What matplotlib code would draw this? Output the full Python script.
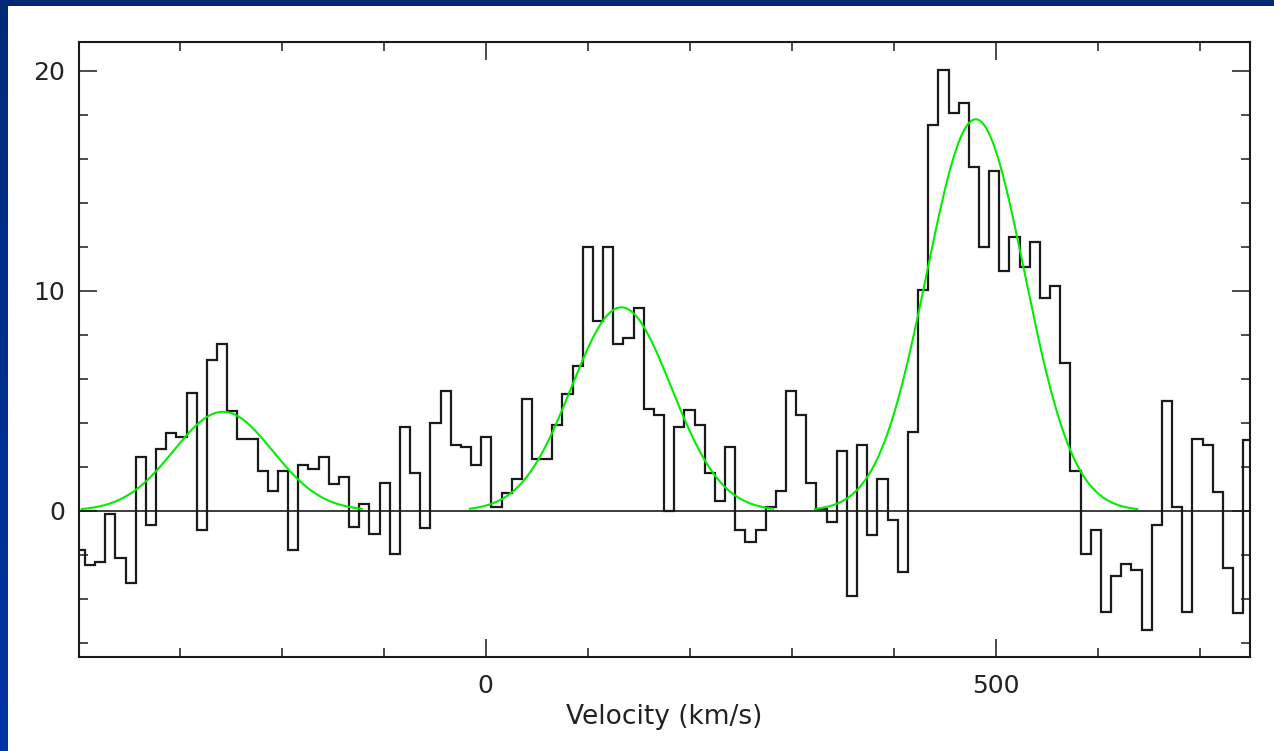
import numpy as np
import matplotlib
matplotlib.use("Agg")
import matplotlib.pyplot as plt
from matplotlib.patches import Rectangle
from matplotlib.colors import LinearSegmentedColormap
from matplotlib.ticker import MultipleLocator, FixedLocator

# --- spectrum: regular velocity channels, flux ---
v_first_edge = -402.8   # km/s, left edge of the first (clipped) channel
channel_width = 9.96    # km/s
flux = [
    -1.79, -2.45, -2.35, -0.16, -2.14, -3.27, 2.45, -0.65, 2.8, 3.52,
    3.34, 5.34, -0.88, 6.85, 7.59, 4.53, 3.25, 3.25, 1.8, 0.9,
    1.8, -1.79, 2.08, 1.9, 2.45, 1.2, 1.53, -0.73, 0.3, -1.07,
    1.27, -1.97, 3.79, 1.71, -0.8, 3.97, 5.44, 2.97, 2.9, 2.08,
    3.36, 0.18, 0.82, 1.43, 5.06, 2.35, 2.35, 3.88, 5.3, 6.58,
    12.0, 8.64, 12.0, 7.6, 7.86, 9.2, 4.62, 4.35, 0.0, 3.8,
    4.59, 3.9, 1.73, 0.45, 2.91, -0.88, -1.44, -0.88, 0.18, 0.91,
    5.45, 4.35, 1.27, 0.06, -0.53, 2.71, -3.88, 2.99, -1.1, 1.44,
    -0.43, -2.79, 3.6, 10.04, 17.53, 20.05, 18.07, 18.52, 15.61, 12.01,
    15.43, 10.92, 12.46, 11.1, 12.2, 9.66, 10.21, 6.7, 1.8, -1.97,
    -0.88, -4.59, -2.97, -2.44, -2.7, -5.42, -0.65, 4.99, 0.18, -4.59,
    3.24, 2.99, 0.84, -2.59, -4.66, 3.21,
]

# --- gaussian fits (green) ---
fit_amp = [4.5, 9.25, 17.8]
fit_centre = [-257.5, 133.0, 480.4]
fit_sigma = [48.5, 49.0, 48.0]
fit_from = [-396.0, -15.4, 322.8]
fit_to = [-121.6, 281.7, 638.8]

x_ticks_major = [0, 500]
y_ticks_major = [0, 10, 20]

W, H = 1274, 751
fig = plt.figure(figsize=(W / 100, H / 100), dpi=100)

# blue slide background with a white panel
bg = fig.add_axes([0, 0, 1, 1], zorder=-5)
blue = LinearSegmentedColormap.from_list("slide", ["#002a78", "#0034a4"])
bg.imshow(np.linspace(0, 1, 256).reshape(-1, 1), cmap=blue, aspect="auto",
          extent=[0, 1, 0, 1])
bg.add_patch(Rectangle((8 / W, 0), 1 - 8 / W, 1 - 6 / H,
                       transform=bg.transAxes, facecolor="white", lw=0))
bg.set_xlim(0, 1)
bg.set_ylim(0, 1)
bg.axis("off")

ax = fig.add_axes([79 / W, 94 / H, (1250 - 79) / W, (657 - 42.3) / H])
ax.patch.set_alpha(0)

edges = v_first_edge + channel_width * np.arange(len(flux) + 1)
ax.stairs(flux, edges, baseline=None, color="#1a1a1a", lw=1.6)
ax.axhline(0, color="#1a1a1a", lw=1.2)

for a, c, s, v0, v1 in zip(fit_amp, fit_centre, fit_sigma, fit_from, fit_to):
    v = np.linspace(v0, v1, 300)
    ax.plot(v, a * np.exp(-0.5 * ((v - c) / s) ** 2), color="#00ee00", lw=1.5)

ax.set_xlim(-398.7, 749.3)
ax.set_ylim(-6.65, 21.3)

ax.xaxis.set_major_locator(FixedLocator(x_ticks_major))
ax.xaxis.set_minor_locator(MultipleLocator(100))
ax.yaxis.set_major_locator(FixedLocator(y_ticks_major))
ax.yaxis.set_minor_locator(MultipleLocator(2))

ax.tick_params(which="both", direction="in", top=True, right=True,
               color="#1a1a1a", width=1.1, labelsize=18, labelcolor="#222222")
ax.tick_params(which="major", length=12.7)
ax.tick_params(which="minor", length=6.7)
ax.tick_params(axis="x", pad=12)
ax.tick_params(axis="y", pad=10)
for sp in ax.spines.values():
    sp.set_linewidth(1.5)
    sp.set_color("#1a1a1a")

ax.set_xlabel("Velocity (km/s)", fontsize=19, color="#222222")
ax.xaxis.label.set_va("baseline")
ax.xaxis.set_label_coords(0.5, (H - 724 - 94) / (657 - 42.3))

fig.savefig("out.png", dpi=100)
